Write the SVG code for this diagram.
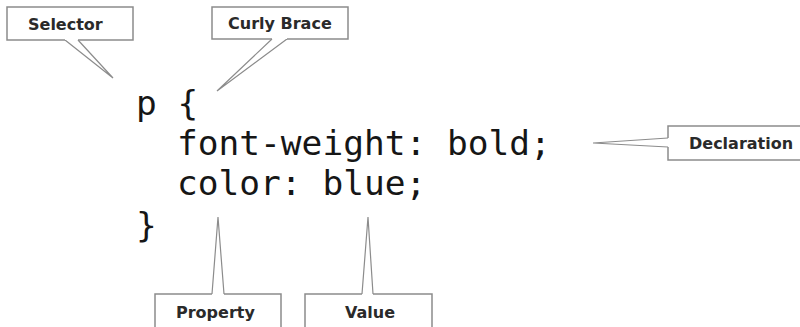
<svg xmlns="http://www.w3.org/2000/svg" width="800" height="327" viewBox="0 0 800 327">
<style>
.box{fill:#fff;stroke:#8c8c8c;stroke-width:1.5;stroke-linejoin:miter}
.ptr{fill:#fff;stroke:#8c8c8c;stroke-width:1.2;stroke-linejoin:miter}
.lbl{font-family:"DejaVu Sans",sans-serif;font-weight:bold;font-size:16px;fill:#2a2a2a}
.code{font-family:"DejaVu Sans Mono",monospace;font-size:34.5px;fill:#161616}
</style>
<rect width="800" height="327" fill="#fff"/>
<g id="code">
<text class="code" x="136" y="115">p {</text>
<text class="code" x="177" y="155">font-weight: bold;</text>
<text class="code" x="177" y="195">color: blue;</text>
<text class="code" x="136" y="237">}</text>
</g>
<g id="connectors">
<path class="ptr" d="M65,40 L113,78 L78,40"/>
<path class="ptr" d="M272,39 L217,91 L287,39"/>
<path class="ptr" d="M668,138 L593,143 L668,147"/>
<path class="ptr" d="M212,294 L218,217 L224,294"/>
<path class="ptr" d="M362,294 L368,217 L373,294"/>
</g>
<g id="selector">
<path class="box" d="M78,40 H133 V7 H7 V40 H65"/>
<text class="lbl" x="28" y="30">Selector</text>
</g>
<g id="curly-brace">
<path class="box" d="M287,39 H348 V7 H212 V39 H272"/>
<text class="lbl" x="228" y="29">Curly Brace</text>
</g>
<g id="declaration">
<path class="box" d="M668,138 V126 H810 V160 H668 V147"/>
<text class="lbl" x="689" y="149">Declaration</text>
</g>
<g id="property">
<path class="box" d="M224,294 H281 V340 H155 V294 H212"/>
<text class="lbl" x="176" y="318">Property</text>
</g>
<g id="value">
<path class="box" d="M373,294 H432 V340 H305 V294 H362"/>
<text class="lbl" x="345" y="318">Value</text>
</g>
</svg>
